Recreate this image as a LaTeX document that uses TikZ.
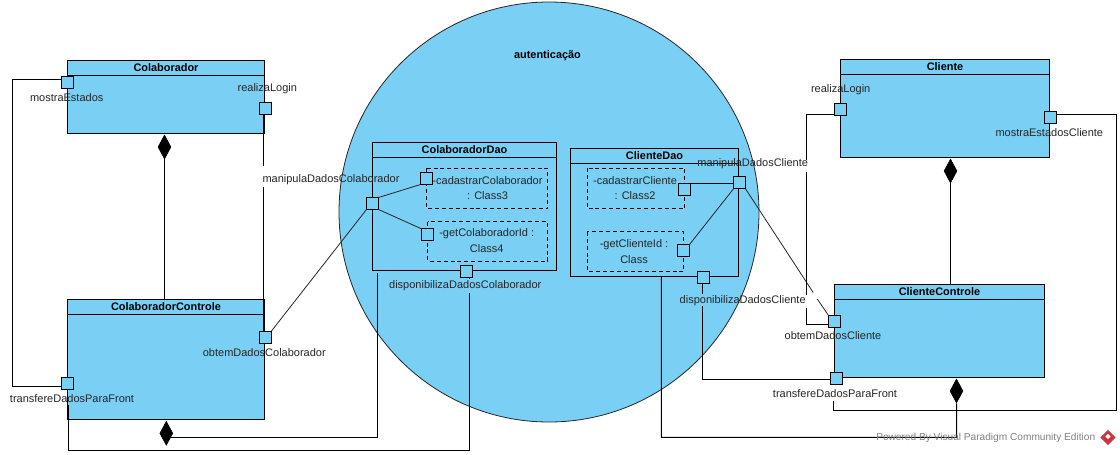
\documentclass[tikz,border=0pt]{standalone}
\usepackage{fontspec}
\setmainfont{Liberation Sans}
\usetikzlibrary{shapes.geometric,calc}
\definecolor{umlblue}{RGB}{122,207,245}
\definecolor{logored}{RGB}{200,55,60}
\tikzset{
  x=0.75pt,y=-0.75pt,
  umlline/.style={draw=black,line width=0.75pt},
  thinline/.style={draw=black!85,line width=0.6pt},
  portbox/.style={draw=black,fill=umlblue,line width=0.75pt,minimum size=9pt,inner sep=0pt,outer sep=0pt},
  label/.style={font=\fontsize{8.25pt}{9pt}\selectfont,text=black!85,inner sep=0pt},
  title/.style={font=\fontsize{8.2pt}{9pt}\selectfont\bfseries,inner sep=0pt},
  comp/.style={shape=diamond,draw=black,fill=black,inner sep=0pt,minimum width=9.8pt,minimum height=18pt,line width=0.4pt},
  dashbox/.style={draw=black,dashed,dash pattern=on 3pt off 2.2pt,line width=0.75pt},
  ghost/.style={font=\fontsize{7.6pt}{9pt}\selectfont,text=black!50,inner sep=0pt},
}
% name, x0,y0,x1,y1, header y, title
\newcommand{\umlbox}[7]{%
  \pgfmathsetmacro{\boxw}{(#4-#2)*0.75}%
  \pgfmathsetmacro{\boxh}{(#5-#3)*0.75}%
  \node[draw=black,fill=umlblue,line width=0.75pt,inner sep=0pt,outer sep=0pt,minimum width=\boxw pt,minimum height=\boxh pt] (#1) at ({(#2+#4)/2},{(#3+#5)/2}) {};
  \draw[umlline] (#1.west |- 0,#6) -- (#1.east |- 0,#6);
  \node[title] (#1t) at ({(#2+#4)/2},{(#3+#6)/2}) {#7};
}
\begin{document}
\begin{tikzpicture}
\useasboundingbox (0,0) rectangle (1120,454);
\fill[white] (0,0) rectangle (1120,454);
\node[draw=black!85,fill=umlblue,line width=0.6pt,shape=circle,inner sep=0pt,minimum size=315pt] (auth) at (549,212) {};
\node[title] (autht) at (547.5,55.5) {autenticação};

\umlbox{colab}{67.5}{60.5}{264.5}{133}{75.5}{Colaborador}
\umlbox{colabc}{67.5}{299.5}{264.5}{419.5}{314}{ColaboradorControle}
\umlbox{colabd}{372.5}{142.5}{556.5}{270.5}{157.5}{ColaboradorDao}
\umlbox{clid}{570.5}{148.5}{738.5}{276.5}{163.5}{ClienteDao}
\umlbox{cli}{840.5}{59.5}{1049.5}{157.5}{74.5}{Cliente}
\umlbox{clic}{834.5}{284.5}{1044.5}{377.5}{299.5}{ClienteControle}

% dashed operation boxes
\draw[dashbox] (426.7,168.3) rectangle (547.7,208.7);
\node[label] (opa1) at (487.5,181) {-cadastrarColaborador};
\node[label] (opa2) at (487.5,196) {: Class3};
\draw[dashbox] (427.7,221.7) rectangle (547.7,261.3);
\node[label] (opb1) at (486.7,234) {-getColaboradorId :};
\node[label] (opb2) at (486.7,249) {Class4};
\draw[dashbox] (587.3,168.3) rectangle (684.7,208.7);
\node[label] (opc1) at (635,181) {-cadastrarCliente};
\node[label] (opc2) at (635,196) {: Class2};
\draw[dashbox] (587.3,231.7) rectangle (683.7,271.3);
\node[label] (opd1) at (634,244.5) {-getClienteId :};
\node[label] (opd2) at (634,259.5) {Class};

% composition diamonds
\node[comp] (dcolab) at (164.5,147) {};
\node[comp] (dcolabc) at (166.3,433.3) {};
\node[comp] (dcli) at (950.5,171) {};
\node[comp] (dclic) at (956.5,391) {};

% ports
\node[portbox] (pme) at (67.5,82) {};
\node[portbox] (prl) at (265.5,108.5) {};
\node[portbox] (pod) at (265.5,337) {};
\node[portbox] (ptf) at (67.5,383) {};
\node[portbox] (pmd) at (372.5,203.5) {};
\node[portbox] (pca) at (426.5,178.5) {};
\node[portbox] (pge) at (427.5,234.8) {};
\node[portbox] (pdd) at (466.5,271) {};
\node[portbox] (pcc) at (684.5,189.5) {};
\node[portbox] (pgc) at (683.5,250.5) {};
\node[portbox] (pmc) at (739.5,182.8) {};
\node[portbox] (pdc) at (703.5,277.5) {};
\node[portbox] (pcl) at (840.5,109.5) {};
\node[portbox] (pms) at (1050.5,117.5) {};
\node[portbox] (poc) at (834.5,321.5) {};
\node[portbox] (ptc) at (836.5,378.5) {};

% gap coordinates for lines interrupted by labels
\coordinate (ga1) at (263.3,166);
\coordinate (ga2) at (263.3,187);
\coordinate (gb1) at (806.3,160);
\coordinate (gb2) at (806.3,172);
\coordinate (gb3) at (806.3,295);
\coordinate (gb4) at (806.3,308);
\coordinate (gc1) at (702.4,294);
\coordinate (gc2) at (702.4,306);
\coordinate (gd1) at (813.2,292.5);
\coordinate (gd2) at (817.3,299);

% connectors
\draw[umlline] (dcolab.south) -- (dcolab.south |- colabc.north);
\draw[umlline] (dcli.south) -- (dcli.south |- clic.north);
\draw[umlline] (pme.west |- 0,79.5) -- (12.5,79.5) -- (12.5,386.5) -- (ptf.west |- 0,386.5);
\draw[umlline] (263.3,114.5) -- (ga1);
\draw[umlline] (ga2) -- (263.3,331);
\draw[thinline] (pod.north east) -- (pmd.south west);
\draw[thinline] (pmd.north east) -- (pca.south west);
\draw[thinline] (pmd.south east) -- (pge.north west);
\draw[umlline] ($(dcolabc.center)+(3.5,4)$) -- (377,437.3) -- (377,272.7);
\draw[umlline] (68.4,405) -- (68.4,450.3) -- (469.3,450.3) -- (469.3,293);
\draw[umlline] (469.3,277) -- (469.3,279);
\draw[umlline] (pcc.east |- 0,183.3) -- (pmc.west |- 0,183.3);
\draw[thinline] (pgc.north east) -- (pmc.south west);
\draw[thinline] (pmc.south east) -- (gd1);
\draw[thinline] (gd2) -- (poc.north west);
\draw[umlline] (pcl.west |- 0,114.3) -- (806.3,114.3) -- (gb1);
\draw[umlline] (gb2) -- (gb3);
\draw[umlline] (gb4) -- (806.3,324.3) -- (poc.west |- 0,324.3);
\draw[umlline] (pms.east |- 0,114.3) -- (1116.3,114.3) -- (1116.3,410.3) -- (833.3,410.3) -- (833.3,400.7);
\draw[umlline] (ptc.west |- 0,379) -- (702.4,379) -- (gc2);
\draw[umlline] (gc1) -- (gc1 |- pdc.south);
\draw[umlline] (dclic.south) -- (956.7,437.3) -- (661.3,437.3) -- (661.3,276.5);

% labels
\node[label] (lme) at (66.7,97.3) {mostraEstados};
\node[label] (lrl) at (267.3,88.3) {realizaLogin};
\node[label] (lmd) at (331,180) {manipulaDadosColaborador};
\node[label] (lod) at (264.3,352.3) {obtemDadosColaborador};
\node[label] (ltf) at (72,398.3) {transfereDadosParaFront};
\node[label] (ldd) at (465.3,286) {disponibilizaDadosColaborador};
\node[label] (lmc) at (752.7,163.3) {manipulaDadosCliente};
\node[label] (ldc) at (742.7,301) {disponibilizaDadosCliente};
\node[label] (lcl) at (840.7,89.3) {realizaLogin};
\node[label] (lms) at (1049.3,132.3) {mostraEstadosCliente};
\node[label] (loc) at (833,336) {obtemDadosCliente};
\node[label] (ltc) at (835,393.3) {transfereDadosParaFront};

% watermark
\node[ghost,anchor=west] (wm) at (876,437.5) {Powered By Visual Paradigm Community Edition};
\node[shape=diamond,fill=logored,inner sep=0pt,minimum size=11.5pt] (logo) at (1108,437.5) {};
\node[shape=diamond,fill=white,inner sep=0pt,minimum size=4pt] (logoi) at (1108,436.5) {};
\end{tikzpicture}
\end{document}
